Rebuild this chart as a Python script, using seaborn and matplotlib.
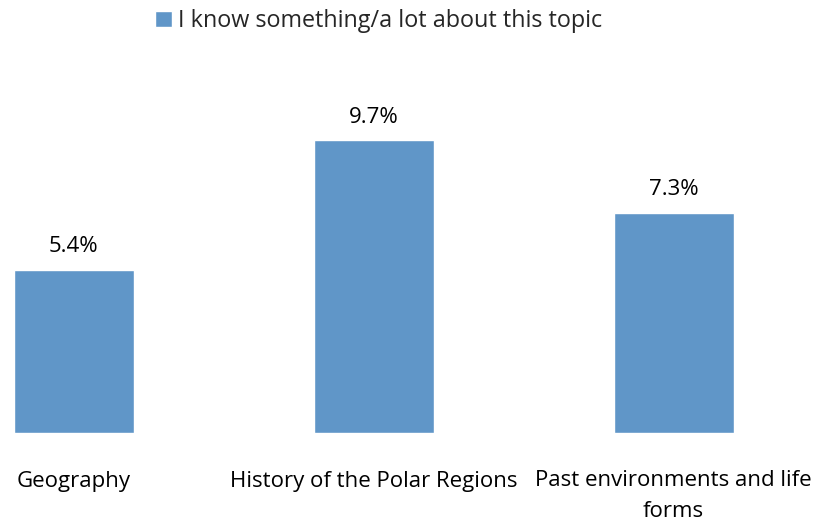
import matplotlib
matplotlib.use("Agg")
import matplotlib.pyplot as plt
import seaborn as sns
import pandas as pd

sns.set_theme(style="white")
plt.rcParams['font.family'] = ['Open Sans', 'DejaVu Sans']

topics = ['Geography', 'History of the Polar Regions', 'Past environments and life\nforms']
percent = [5.4, 9.7, 7.3]
series_name = 'I know something/a lot about this topic'
bar_color = '#6096C8'

df = pd.DataFrame({'topic': topics, 'percent': percent})

fig = plt.figure(figsize=(8.2, 5.22), dpi=100)
ax = fig.add_axes([0, 89 / 522, 1, (433 - 60) / 522])

sns.barplot(x='topic', y='percent', data=df, color=bar_color, width=0.4,
            saturation=1, ax=ax, label=series_name)

for i, v in enumerate(percent):
    ax.annotate(f'{v}%', (i, v), xytext=(0, 9), textcoords='offset points',
                ha='center', va='bottom', fontsize=16, color='black')

ax.set_xlim(-0.245, 2.488)
ax.set_ylim(0, 12.35)
ax.set_xlabel('')
ax.set_ylabel('')
ax.set_yticks([])
ax.tick_params(axis='x', length=0, pad=27, labelsize=16, colors='black')
for lbl in ax.get_xticklabels():
    lbl.set_linespacing(1.6)
for s in ax.spines.values():
    s.set_visible(False)

handles, labels = ax.get_legend_handles_labels()
if ax.get_legend():
    ax.get_legend().remove()
fig.legend(handles, labels, loc='upper left', bbox_to_anchor=(155 / 820, 1 - 9 / 522),
           frameon=False, fontsize=16.8, handlelength=0.72, handleheight=0.72,
           handletextpad=0.25, borderpad=0, borderaxespad=0)

fig.savefig('out.png', dpi=100)
